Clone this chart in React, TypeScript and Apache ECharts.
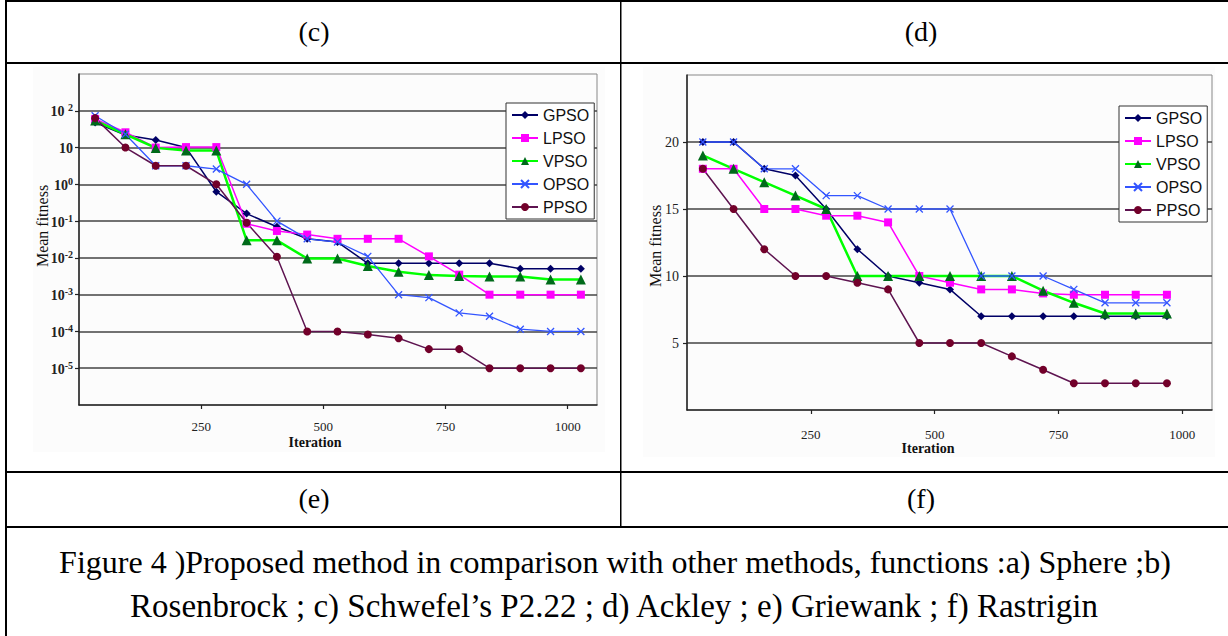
import React, { useEffect, useRef } from 'react';
import * as echarts from 'echarts';

const seriesNames = ['GPSO', 'LPSO', 'VPSO', 'OPSO', 'PPSO'];

// Chart (e) – log scale
const iterC = [33, 95, 157, 219, 281, 343, 405, 467, 529, 591, 654, 716, 778, 840, 903, 965, 1027];
const gpsoC = [48, 22, 16, 10, 0.63, 0.16, 0.07, 0.033, 0.027, 0.0071, 0.0071, 0.0071, 0.0071, 0.0071, 0.0051, 0.0051, 0.0051];
const lpsoC = [60, 26, 10, 10.3, 10.3, 0.085, 0.054, 0.043, 0.033, 0.033, 0.033, 0.011, 0.0035, 0.001, 0.001, 0.001, 0.001];
const vpsoC = [54, 23, 9.8, 8.3, 8.3, 0.03, 0.03, 0.0096, 0.0096, 0.006, 0.0042, 0.0034, 0.0032, 0.0031, 0.0031, 0.0026, 0.0026];
const opsoC = [73, 23, 3.2, 3.2, 2.6, 1.0, 0.1, 0.033, 0.027, 0.011, 0.001, 0.00083, 0.00032, 0.00026, 0.000115, 0.0001, 0.0001];
const ppsoC = [63, 10, 3.2, 3.2, 1.0, 0.09, 0.0107, 0.0001, 0.0001, 0.000083, 0.000065, 0.000033, 0.000033, 0.00001, 0.00001, 0.00001, 0.00001];

// Chart (f) – linear scale
const iterD = [32, 94, 156, 219, 281, 344, 406, 469, 531, 594, 656, 719, 781, 844, 906, 969];
const gpsoD = [20, 20, 18, 17.5, 15, 12, 10, 9.5, 9, 7, 7, 7, 7, 7, 7, 7];
const lpsoD = [18, 18, 15, 15, 14.5, 14.5, 14, 10, 9.5, 9, 9, 8.7, 8.6, 8.6, 8.6, 8.6];
const vpsoD = [19, 18, 17, 16, 15, 10, 10, 10, 10, 10, 10, 8.9, 8, 7.2, 7.2, 7.2];
const opsoD = [20, 20, 18, 18, 16, 16, 15, 15, 15, 10, 10, 10, 9, 8, 8, 8];
const ppsoD = [18, 15, 12, 10, 10, 9.5, 9, 5, 5, 5, 4, 3, 2, 2, 2, 2];

const xTicks = [250, 500, 750, 1000];
const headerLabels = ['(c)', '(d)', '(e)', '(f)'];
const captionLines = [
  'Figure 4 )Proposed method in comparison with other methods, functions :a) Sphere ;b)',
  'Rosenbrock ; c) Schwefel\u2019s P2.22 ; d) Ackley ; e) Griewank ; f) Rastrigin',
];

const SERIF = 'Liberation Serif';
const SANS = 'Liberation Sans';

const styles: Record<string, any> = {
  GPSO: { line: '#000066', mark: '#000066', symbol: 'diamond', size: 8, width: 1.5 },
  LPSO: { line: '#ff00ff', mark: '#ff00ff', symbol: 'rect', size: 8, width: 1.5 },
  VPSO: { line: '#00ff00', mark: '#006a1a', symbol: 'triangle', size: 10, width: 2.5 },
  OPSO: { line: '#3355ff', mark: '#3355ff', symbol: 'path://M0 0L10 10M10 0L0 10', size: 7, width: 1.3 },
  PPSO: { line: '#5e1450', mark: '#72002a', symbol: 'circle', size: 8, width: 1.5 },
};

function makeSeries(name: string, xs: number[], ys: number[], idx: number) {
  const s = styles[name];
  const isX = name === 'OPSO';
  return {
    name,
    type: 'line',
    xAxisIndex: idx,
    yAxisIndex: idx,
    data: xs.map((x, i) => [x, ys[i]]),
    symbol: s.symbol,
    symbolSize: s.size,
    showSymbol: true,
    lineStyle: { color: s.line, width: s.width },
    itemStyle: isX
      ? { color: s.mark, borderColor: s.mark, borderWidth: 1.3 }
      : { color: s.mark, borderWidth: 0 },
    emphasis: { disabled: true },
  };
}

function xAxisCfg(gridIndex: number, margin: number) {
  return {
    type: 'value',
    gridIndex,
    min: 0,
    max: 1060,
    axisLine: { show: true, onZero: false, lineStyle: { color: '#222', width: 1.5 } },
    axisTick: { show: true, customValues: xTicks, length: 4, lineStyle: { color: '#222', width: 1.2 } },
    axisLabel: {
      show: true,
      customValues: xTicks,
      margin,
      formatter: (v: number) => String(v),
      fontFamily: SERIF,
      fontSize: 13,
      color: '#222',
    },
    splitLine: { show: false },
  };
}

const gridLine = { show: true, showMinLine: false, showMaxLine: false, lineStyle: { color: '#444', width: 1.6 } };

function txt(text: string, x: number, y: number, size: number, extra: any = {}) {
  return {
    type: 'text',
    z: 10,
    x,
    y,
    ...extra,
    style: {
      text,
      fontFamily: extra.family || SERIF,
      fontSize: size,
      fontWeight: extra.weight || 'normal',
      fill: extra.fill || '#000',
      align: 'center',
      verticalAlign: 'middle',
    },
  };
}

export default function App() {
  const ref = useRef<HTMLDivElement>(null);

  useEffect(() => {
    if (!ref.current) return;
    const chart = echarts.init(ref.current, undefined, { renderer: 'svg' });

    const graphicEls: any[] = [
      // chart-area backgrounds
      { type: 'rect', z: -5, shape: { x: 33, y: 67, width: 572, height: 385 }, style: { fill: '#fcfcfc' } },
      { type: 'rect', z: -5, shape: { x: 643, y: 67, width: 572, height: 390 }, style: { fill: '#fcfcfc' } },
      // table lines
      { type: 'rect', z: 10, shape: { x: 5, y: 0, width: 1223, height: 2 }, style: { fill: '#000' } },
      { type: 'rect', z: 10, shape: { x: 5, y: 0, width: 2, height: 636 }, style: { fill: '#000' } },
      { type: 'rect', z: 10, shape: { x: 5, y: 62, width: 1223, height: 2 }, style: { fill: '#000' } },
      { type: 'rect', z: 10, shape: { x: 5, y: 471, width: 1223, height: 2 }, style: { fill: '#000' } },
      { type: 'rect', z: 10, shape: { x: 5, y: 526, width: 1223, height: 2 }, style: { fill: '#000' } },
      { type: 'rect', z: 10, shape: { x: 620, y: 0, width: 1.5, height: 527 }, style: { fill: '#000' } },
      // header / footer labels
      txt(headerLabels[0], 314, 31, 28),
      txt(headerLabels[1], 921, 31, 28),
      txt(headerLabels[2], 314, 498, 28),
      txt(headerLabels[3], 921, 498, 28),
      txt(captionLines[0], 615, 562, 32),
      txt(captionLines[1], 614, 606, 33),
      // axis titles
      txt('Mean fitness', 42, 226, 16, { rotation: Math.PI / 2, fill: '#111' }),
      txt('Mean fitness', 655, 246, 16, { rotation: Math.PI / 2, fill: '#111' }),
      txt('Iteration', 315, 442, 14, { weight: 'bold', fill: '#111' }),
      txt('Iteration', 928, 448, 14, { weight: 'bold', fill: '#111' }),
    ];

    const legendBase = {
      orient: 'vertical',
      data: seriesNames,
      backgroundColor: '#fff',
      borderColor: '#333',
      borderWidth: 1,
      borderRadius: 0,
      padding: [3, 5, 3, 5],
      itemWidth: 26,
      itemHeight: 10,
      itemGap: 5,
      selectedMode: false,
      textStyle: { fontFamily: SANS, fontSize: 16, color: '#111', lineHeight: 18 },
      z: 8,
    };

    const option: any = {
      animation: false,
      backgroundColor: '#fff',
      textStyle: { fontFamily: SERIF },
      grid: [
        { left: 79, top: 74, width: 518, height: 331, show: true, borderColor: '#888', borderWidth: 1, backgroundColor: 'transparent', containLabel: false, outerBoundsMode: 'none' },
        { left: 687, top: 75, width: 525, height: 335, show: true, borderColor: '#888', borderWidth: 1, backgroundColor: 'transparent', containLabel: false, outerBoundsMode: 'none' },
      ],
      xAxis: [xAxisCfg(0, 15), xAxisCfg(1, 18)],
      yAxis: [
        {
          type: 'log',
          gridIndex: 0,
          logBase: 10,
          min: 1e-6,
          max: 1000,
          axisLine: { show: true, onZero: false, lineStyle: { color: '#222', width: 1.5 } },
          axisTick: { show: true, length: 4, lineStyle: { color: '#222', width: 1.2 } },
          axisLabel: {
            show: true,
            showMinLabel: false,
            showMaxLabel: false,
            margin: 6,
            formatter: (v: number) => {
              const e = Math.round(Math.log10(v));
              if (e === 1) return '{b|10}';
              if (e === 2) return '{b|10 }{s|2}';
              return `{b|10}{s|${e}}`;
            },
            rich: {
              b: { fontFamily: SERIF, fontSize: 14, color: '#222', fontWeight: 'bold', lineHeight: 16, verticalAlign: 'bottom' },
              s: { fontFamily: SERIF, fontSize: 10, color: '#222', fontWeight: 'bold', verticalAlign: 'top', lineHeight: 10 },
            },
          },
          splitLine: gridLine,
        },
        {
          type: 'value',
          gridIndex: 1,
          min: 0,
          max: 25,
          interval: 5,
          axisLine: { show: true, onZero: false, lineStyle: { color: '#222', width: 1.5 } },
          axisTick: { show: true, length: 4, lineStyle: { color: '#222', width: 1.2 } },
          axisLabel: {
            show: true,
            showMinLabel: false,
            showMaxLabel: false,
            margin: 8,
            fontFamily: SERIF,
            fontSize: 14,
            color: '#222',
          },
          splitLine: gridLine,
        },
      ],
      legend: [
        { ...legendBase, left: 506, top: 103 },
        { ...legendBase, left: 1119, top: 106 },
      ],
      graphic: { elements: graphicEls },
      series: [
        makeSeries('GPSO', iterC, gpsoC, 0),
        makeSeries('LPSO', iterC, lpsoC, 0),
        makeSeries('VPSO', iterC, vpsoC, 0),
        makeSeries('OPSO', iterC, opsoC, 0),
        makeSeries('PPSO', iterC, ppsoC, 0),
        makeSeries('GPSO', iterD, gpsoD, 1),
        makeSeries('LPSO', iterD, lpsoD, 1),
        makeSeries('VPSO', iterD, vpsoD, 1),
        makeSeries('OPSO', iterD, opsoD, 1),
        makeSeries('PPSO', iterD, ppsoD, 1),
      ],
    };

    chart.setOption(option);
    return () => chart.dispose();
  }, []);

  return (
    <div
      ref={ref}
      style={{ position: 'absolute', left: 0, top: 0, width: 1228, height: 636, background: '#fff' }}
    />
  );
}
